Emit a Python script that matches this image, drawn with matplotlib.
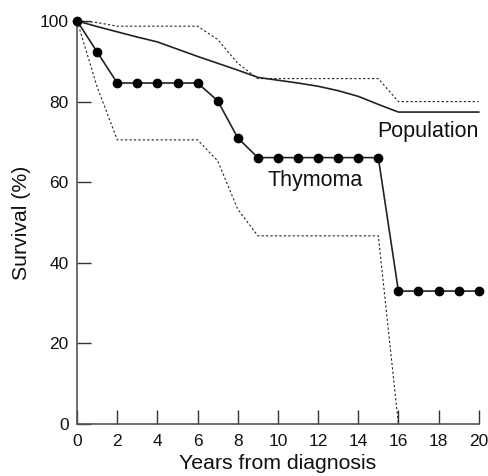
import matplotlib
matplotlib.use("Agg")
import matplotlib.pyplot as plt

years = list(range(0, 21))
thymoma = [100, 92.3, 84.6, 84.6, 84.6, 84.6, 84.6, 80.2, 71.0,
           66.1, 66.1, 66.1, 66.1, 66.1, 66.1, 66.1,
           33.0, 33.0, 33.0, 33.0, 33.0]
population = [100, 98.6, 97.3, 96.0, 94.8, 93.0, 91.2, 89.5, 87.8, 86.0,
              85.3, 84.6, 83.8, 82.7, 81.3, 79.3, 77.4, 77.4, 77.4, 77.4, 77.4]
upper_x = [0, 1, 2, 3, 4, 5, 6, 7, 8, 9, 10, 11, 12, 13, 14, 15, 16, 17, 18, 19, 20]
upper_ci = [100, 99.6, 98.7, 98.7, 98.7, 98.7, 98.7, 95.4, 89.5, 85.7,
            85.7, 85.7, 85.7, 85.7, 85.7, 85.7, 80.0, 80.0, 80.0, 80.0, 80.0]
lower_x = [0, 1, 2, 3, 4, 5, 6, 7, 8, 9, 10, 11, 12, 13, 14, 15, 16]
lower_ci = [100, 83.6, 70.5, 70.5, 70.5, 70.5, 70.5, 65.3, 53.3, 46.7,
            46.7, 46.7, 46.7, 46.7, 46.7, 46.7, 0]
xticks = [0, 2, 4, 6, 8, 10, 12, 14, 16, 18, 20]
yticks = [0, 20, 40, 60, 80, 100]

plt.rcParams['font.family'] = ['Liberation Sans', 'DejaVu Sans']

fig = plt.figure(figsize=(4.88, 4.76), dpi=100)
ax = fig.add_axes([0.158, 0.109, 0.823, 0.847])

col = '#222222'
ax.plot(upper_x, upper_ci, color=col, lw=0.8, ls=(0, (2, 2)), clip_on=False)
ax.plot(lower_x, lower_ci, color=col, lw=0.8, ls=(0, (2, 2)), clip_on=False)
ax.plot(years, population, color=col, lw=1.2, clip_on=False)
ax.plot(years, thymoma, color=col, lw=1.2, marker='o', markersize=6,
        markerfacecolor='black', markeredgecolor='black', clip_on=False, zorder=5)

ax.text(20, 72.5, 'Population', ha='right', va='center', fontsize=15.5, color='#111111')
ax.text(9.5, 60.5, 'Thymoma', ha='left', va='center', fontsize=15.5, color='#111111')

ax.set_xlim(0, 20)
ax.set_ylim(0, 100)
ax.set_xticks(xticks)
ax.set_yticks(yticks)
ax.spines['top'].set_visible(False)
ax.spines['right'].set_visible(False)
for s in ['left', 'bottom']:
    ax.spines[s].set_color('#555555')
    ax.spines[s].set_linewidth(1.2)
ax.tick_params(direction='in', length=10, width=1, color='#333333',
               labelsize=12.5, labelcolor='#111111')
ax.tick_params(axis='x', pad=7)
ax.tick_params(axis='y', pad=6)
ax.set_xlabel('Years from diagnosis', fontsize=15.3, color='#111111', labelpad=4)
ax.set_ylabel('Survival (%)', fontsize=15.3, color='#111111', labelpad=6)

fig.savefig('out.png', dpi=100)
